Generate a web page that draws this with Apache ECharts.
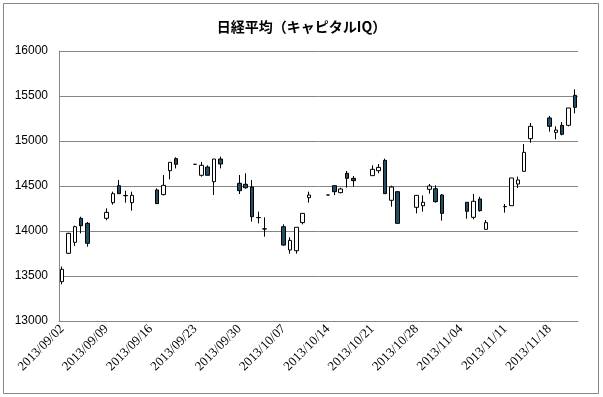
<!DOCTYPE html>
<html>
<head>
<meta charset="utf-8">
<script src="https://cdn.jsdelivr.net/npm/echarts@6/dist/echarts.min.js"></script>
<style>
  html, body { margin: 0; padding: 0; background: #fff; }
  #chart { width: 603px; height: 397px; }
</style>
</head>
<body>
<div id="chart"></div>
<script>
// 日経平均 日足 (2013/09/02 - 2013/11/22)
const tradeDates = [
  '2013/09/02', '2013/09/03', '2013/09/04', '2013/09/05', '2013/09/06',
  '2013/09/09', '2013/09/10', '2013/09/11', '2013/09/12', '2013/09/13',
  '2013/09/17', '2013/09/18', '2013/09/19', '2013/09/20',
  '2013/09/23', '2013/09/24', '2013/09/25', '2013/09/26', '2013/09/27',
  '2013/09/30', '2013/10/01', '2013/10/02', '2013/10/03', '2013/10/04',
  '2013/10/07', '2013/10/08', '2013/10/09', '2013/10/10', '2013/10/11',
  '2013/10/14', '2013/10/15', '2013/10/16', '2013/10/17', '2013/10/18',
  '2013/10/21', '2013/10/22', '2013/10/23', '2013/10/24', '2013/10/25',
  '2013/10/28', '2013/10/29', '2013/10/30', '2013/10/31', '2013/11/01',
  '2013/11/05', '2013/11/06', '2013/11/07', '2013/11/08',
  '2013/11/11', '2013/11/12', '2013/11/13', '2013/11/14', '2013/11/15',
  '2013/11/18', '2013/11/19', '2013/11/20', '2013/11/21', '2013/11/22'
];
const opens = [
  13437, 13752, 13874, 14141, 14085,
  14141, 14315, 14504, 14395, 14315,
  14456, 14404, 14670, 14804,
  14741, 14619, 14711, 14548, 14800,
  14530, 14519, 14489, 14150, 14024,
  14048, 13789, 13781, 14093, 14370,
  14400, 14504, 14426, 14641, 14585,
  14615, 14670, 14785, 14341, 14437,
  14263, 14281, 14463, 14470, 14400,
  14319, 14152, 14356, 14019,
  14272, 14281, 14522, 14663, 15026,
  15256, 15096, 15174, 15174, 15507
];
const closes = [
  13574, 13974, 14048, 14059, 13863,
  14207, 14415, 14415, 14392, 14396,
  14304, 14507, 14763, 14741,
  14741, 14730, 14619, 14800, 14744,
  14448, 14481, 14159, 14148, 14022,
  13844, 13896, 14041, 14196, 14400,
  14400, 14437, 14467, 14585, 14559,
  14685, 14707, 14415, 14489, 14085,
  14396, 14319, 14500, 14326, 14196,
  14219, 14330, 14226, 14093,
  14270, 14589, 14567, 14874, 15163,
  15163, 15122, 15074, 15367, 15374
];
const lows = [
  13407, 13745, 13833, 13974, 13826,
  14119, 14293, 14415, 14315, 14226,
  14300, 14396, 14574, 14696,
  14741, 14604, 14619, 14400, 14696,
  14411, 14470, 14104, 14085, 13937,
  13837, 13748, 13748, 14074, 14315,
  14400, 14400, 14419, 14481, 14493,
  14615, 14641, 14415, 14270, 14085,
  14196, 14215, 14415, 14315, 14115,
  14137, 14130, 14215, 14019,
  14204, 14281, 14478, 14663, 14981,
  15104, 15019, 15063, 15163, 15307
];
const highs = [
  13604, 13980, 14059, 14159, 14100,
  14252, 14437, 14567, 14448, 14437,
  14474, 14622, 14763, 14819,
  14741, 14767, 14730, 14800, 14826,
  14622, 14641, 14567, 14215, 14152,
  14074, 13930, 14041, 14196, 14437,
  14400, 14504, 14481, 14667, 14611,
  14730, 14744, 14804, 14504, 14440,
  14396, 14396, 14522, 14507, 14411,
  14319, 14411, 14381, 14122,
  14300, 14589, 14604, 14967, 15200,
  15278, 15163, 15211, 15367, 15574
];
const yTicks = [13000, 16000, 500]; // min, max, interval

// 日付軸（週末も含む暦日）
const firstDay = new Date(2013, 8, 2);
const lastDay = new Date(2013, 10, 22);
const pad = (n) => (n < 10 ? '0' + n : '' + n);
const days = [];
for (let d = new Date(firstDay); d <= lastDay; d.setDate(d.getDate() + 1)) {
  days.push(d.getFullYear() + '/' + pad(d.getMonth() + 1) + '/' + pad(d.getDate()));
}
const candles = days.map((day) => {
  const i = tradeDates.indexOf(day);
  return i < 0 ? '-' : [opens[i], closes[i], lows[i], highs[i]];
});

const myChart = echarts.init(document.getElementById('chart'));
myChart.setOption({
  animation: false,
  title: {
    text: '日経平均（キャピタルIQ）',
    left: 'center',
    top: 15,
    textStyle: {
      fontFamily: 'Noto Sans CJK JP',
      fontSize: 14,
      fontWeight: 'bold',
      color: '#000'
    }
  },
  graphic: [
    {
      type: 'rect',
      shape: { x: 3.5, y: 3.5, width: 595, height: 390 },
      style: { fill: 'none', stroke: '#868686', lineWidth: 1 },
      silent: true
    }
  ],
  grid: { left: 59, right: 25, top: 51, bottom: 76 },
  xAxis: {
    type: 'category',
    data: days,
    boundaryGap: true,
    axisLine: { lineStyle: { color: '#868686' } },
    axisTick: { show: false },
    axisLabel: {
      interval: 6,
      rotate: 45,
      margin: 6,
      color: '#000',
      fontFamily: 'Liberation Serif',
      fontSize: 13
    },
    splitLine: { show: false }
  },
  yAxis: {
    type: 'value',
    min: yTicks[0],
    max: yTicks[1],
    interval: yTicks[2],
    axisLine: { show: true, lineStyle: { color: '#868686' } },
    axisTick: { show: false },
    axisLabel: {
      margin: 11,
      color: '#000',
      fontFamily: 'Liberation Sans',
      fontSize: 12,
      formatter: (v) => String(v)
    },
    splitLine: { lineStyle: { color: '#868686' } }
  },
  series: [
    {
      type: 'candlestick',
      data: candles,
      barWidth: 4,
      itemStyle: {
        color: '#ffffff',
        color0: '#1f5063',
        borderColor: '#000000',
        borderColor0: '#000000',
        borderWidth: 1
      }
    }
  ]
});
</script>
</body>
</html>
